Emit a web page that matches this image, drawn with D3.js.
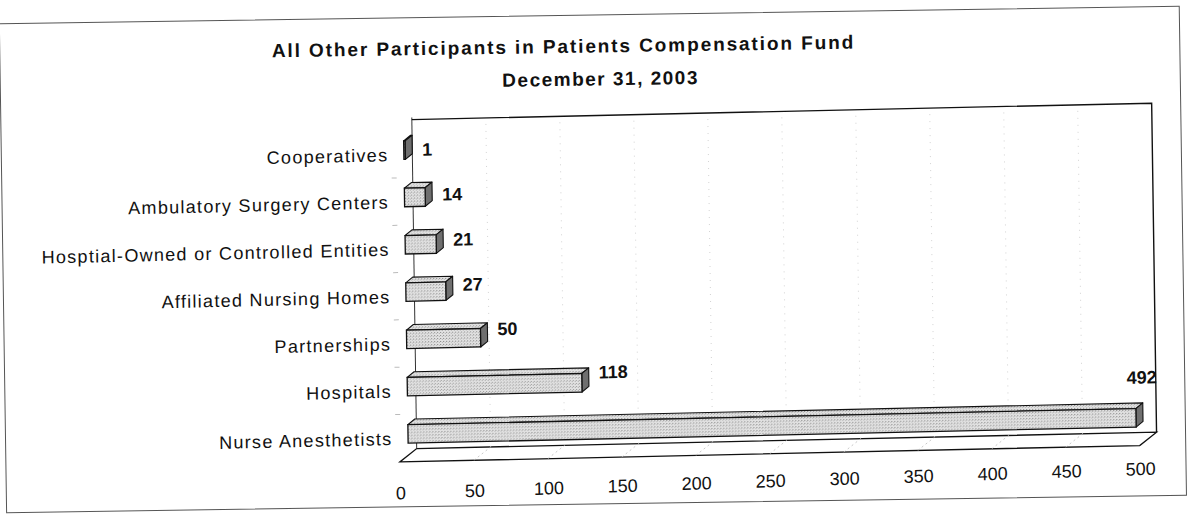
<!DOCTYPE html>
<html>
<head>
<meta charset="utf-8">
<script src="https://cdn.jsdelivr.net/npm/d3@7"></script>
<style>
  body { margin: 0; background: #fff; }
  text { font-family: "Liberation Sans", Arial, sans-serif; fill: #111; }
</style>
</head>
<body>
<div id="chart-area"></div>
<script>

// Data
var categories = ["Cooperatives", "Ambulatory Surgery Centers", "Hosptial-Owned or Controlled Entities",
	"Affiliated Nursing Homes", "Partnerships", "Hospitals", "Nurse Anesthetists"];
var values = [1, 14, 21, 27, 50, 118, 492];
var tickValues = [0, 50, 100, 150, 200, 250, 300, 350, 400, 450, 500];
var titleLines = ["All Other Participants in Patients Compensation Fund", "December 31, 2003"];

var data = categories.map(function(c, i) { return {name: c, value: values[i]}; });

// SVG drawing area
var width = 1193, height = 529;

var svg = d3.select("#chart-area").append("svg")
	.attr("width", width)
	.attr("height", height);

// the scan is slightly tilted
var root = svg.append("g")
	.attr("transform", "rotate(-0.85,596,265)");

root.append("rect")
	.attr("x", 3).attr("y", 15)
	.attr("width", 1180).attr("height", 489)
	.attr("fill", "none")
	.attr("stroke", "#555")
	.attr("stroke-width", 1);

// Titles
root.append("text")
	.attr("x", 275).attr("y", 46)
	.attr("dominant-baseline", "central")
	.style("font-size", "19px").style("font-weight", "bold").style("letter-spacing", "1.9px")
	.text(titleLines[0]);
root.append("text")
	.attr("x", 505).attr("y", 79)
	.attr("dominant-baseline", "central")
	.style("font-size", "19px").style("font-weight", "bold").style("letter-spacing", "1.5px")
	.text(titleLines[1]);

// Plot group with a little perspective slant
var plot = root.append("g")
	.attr("transform", "translate(397,0) skewY(-0.42)");

var floorY = 459, wallTop = 117;
var depth = {x: 17, y: -13};      // floor depth
var bd = {x: 7, y: -5.5};         // bar depth
var barOff = 8.5;                 // bars sit halfway back on the floor

// X Scale
var x = d3.scaleLinear()
	.domain([0, 500])
	.range([0, 740]);

// Y Scale
var y = d3.scaleBand()
	.domain(categories)
	.range([138.15, 440.45])
	.paddingInner(0.609)
	.paddingOuter(0);

var bw = y.bandwidth();

// dotted fill like the printed halftone
var defs = svg.append("defs");
var pat = defs.append("pattern")
	.attr("id", "dots")
	.attr("width", 3).attr("height", 3)
	.attr("patternUnits", "userSpaceOnUse");
pat.append("rect").attr("width", 3).attr("height", 3).attr("fill", "#e2e2e2");
pat.append("rect").attr("width", 1).attr("height", 1).attr("fill", "#8c8c8c");
pat.append("rect").attr("x", 2).attr("y", 1).attr("width", 1).attr("height", 1).attr("fill", "#b0b0b0");

// Floor
plot.append("polygon")
	.attr("points", [[x(0), floorY], [x(500), floorY], [x(500) + depth.x, floorY + depth.y], [x(0) + depth.x, floorY + depth.y]].join(" "))
	.attr("fill", "#fff")
	.attr("stroke", "#111")
	.attr("stroke-width", 1.3);

// floor grid lines
plot.selectAll(".floor-grid")
	.data(tickValues.slice(1, -1))
	.enter().append("line")
	.attr("class", "floor-grid")
	.attr("x1", function(d) { return x(d); })
	.attr("y1", floorY)
	.attr("x2", function(d) { return x(d) + depth.x; })
	.attr("y2", floorY + depth.y)
	.attr("stroke", "#bbb")
	.attr("stroke-width", 0.8)
	.attr("stroke-dasharray", "2,3");

// Back wall grid lines
plot.selectAll(".wall-grid")
	.data(tickValues.slice(1, -1))
	.enter().append("line")
	.attr("class", "wall-grid")
	.attr("x1", function(d) { return x(d) + depth.x; })
	.attr("y1", floorY + depth.y)
	.attr("x2", function(d) { return x(d) + depth.x; })
	.attr("y2", wallTop)
	.attr("stroke", "#c8c8c8")
	.attr("stroke-width", 0.8)
	.attr("stroke-dasharray", "1,6");

// Back wall outline
plot.append("line")
	.attr("x1", x(0) + depth.x).attr("y1", floorY + depth.y)
	.attr("x2", x(0) + depth.x).attr("y2", wallTop - 2)
	.attr("stroke", "#333")
	.attr("stroke-width", 1);
plot.append("polyline")
	.attr("points", [[x(0) + depth.x, wallTop], [x(500) + depth.x, wallTop], [x(500) + depth.x, floorY + depth.y]].join(" "))
	.attr("fill", "none")
	.attr("stroke", "#111")
	.attr("stroke-width", 1.4);

// small category ticks
plot.selectAll(".cat-tick")
	.data(categories.slice(1))
	.enter().append("line")
	.attr("class", "cat-tick")
	.attr("x1", -4).attr("x2", 1)
	.attr("y1", function(d) { return y(d) - (y.step() - bw) / 2 + 4; })
	.attr("y2", function(d) { return y(d) - (y.step() - bw) / 2 + 4; })
	.attr("stroke", "#bbb");

// Bars
var bars = plot.selectAll(".bar")
	.data(data)
	.enter().append("g")
	.attr("class", "bar");

// top face
bars.append("polygon")
	.attr("points", function(d) {
		var x0 = x(0) + barOff, x1 = x(d.value) + barOff, y0 = y(d.name);
		return [[x0, y0], [x1, y0], [x1 + bd.x, y0 + bd.y], [x0 + bd.x, y0 + bd.y]].join(" ");
	})
	.attr("fill", "url(#dots)")
	.attr("stroke", "#111")
	.attr("stroke-width", 1.1)
	.attr("stroke-linejoin", "round");

// side face
bars.append("polygon")
	.attr("points", function(d) {
		var x1 = x(d.value) + barOff, y0 = y(d.name);
		return [[x1, y0], [x1 + bd.x, y0 + bd.y], [x1 + bd.x, y0 + bw + bd.y], [x1, y0 + bw]].join(" ");
	})
	.attr("fill", "#6f6f6f")
	.attr("stroke", "#111")
	.attr("stroke-width", 1.1)
	.attr("stroke-linejoin", "round");

// front face
bars.append("rect")
	.attr("x", x(0) + barOff)
	.attr("y", function(d) { return y(d.name); })
	.attr("width", function(d) { return x(d.value) - x(0); })
	.attr("height", bw)
	.attr("fill", "url(#dots)")
	.attr("stroke", "#111")
	.attr("stroke-width", 1.3);

// Value labels
plot.selectAll(".value")
	.data(data)
	.enter().append("text")
	.attr("class", "value")
	.attr("dominant-baseline", "central")
	.style("font-size", "18px")
	.style("font-weight", "bold")
	.attr("text-anchor", function(d) { return x(d.value) > x(450) ? "end" : "start"; })
	.attr("x", function(d) {
		if (x(d.value) > x(450)) return x(500) + depth.x + 1;
		return x(d.value) + barOff + bd.x + 10;
	})
	.attr("y", function(d, i) {
		if (x(d.value) > x(450)) return y(d.name) + bw / 2 - 40;
		return y(d.name) + bw / 2 - 2 * i;
	})
	.text(function(d) { return d.value; });

// Category axis
var yAxis = d3.axisLeft(y).tickSize(0).tickPadding(7);
var yAxisGroup = plot.append("g")
	.attr("class", "y axis")
	.attr("transform", "translate(0,5)")
	.call(yAxis);
yAxisGroup.select(".domain").remove();
yAxisGroup.selectAll("text")
	.style("font-size", "18px")
	.style("letter-spacing", "1.3px")
	.style("font-family", "'Liberation Sans', Arial, sans-serif")
	.attr("fill", "#111");

// Value axis
var xAxis = d3.axisBottom(x).tickValues(tickValues).tickSize(0).tickPadding(3);
var xAxisGroup = plot.append("g")
	.attr("class", "x axis")
	.attr("transform", "translate(0,480.6) skewY(-0.6)")
	.call(xAxis);
xAxisGroup.select(".domain").remove();
xAxisGroup.selectAll("text")
	.style("font-size", "18px")
	.style("font-family", "'Liberation Sans', Arial, sans-serif")
	.attr("fill", "#111");

</script>
</body>
</html>
